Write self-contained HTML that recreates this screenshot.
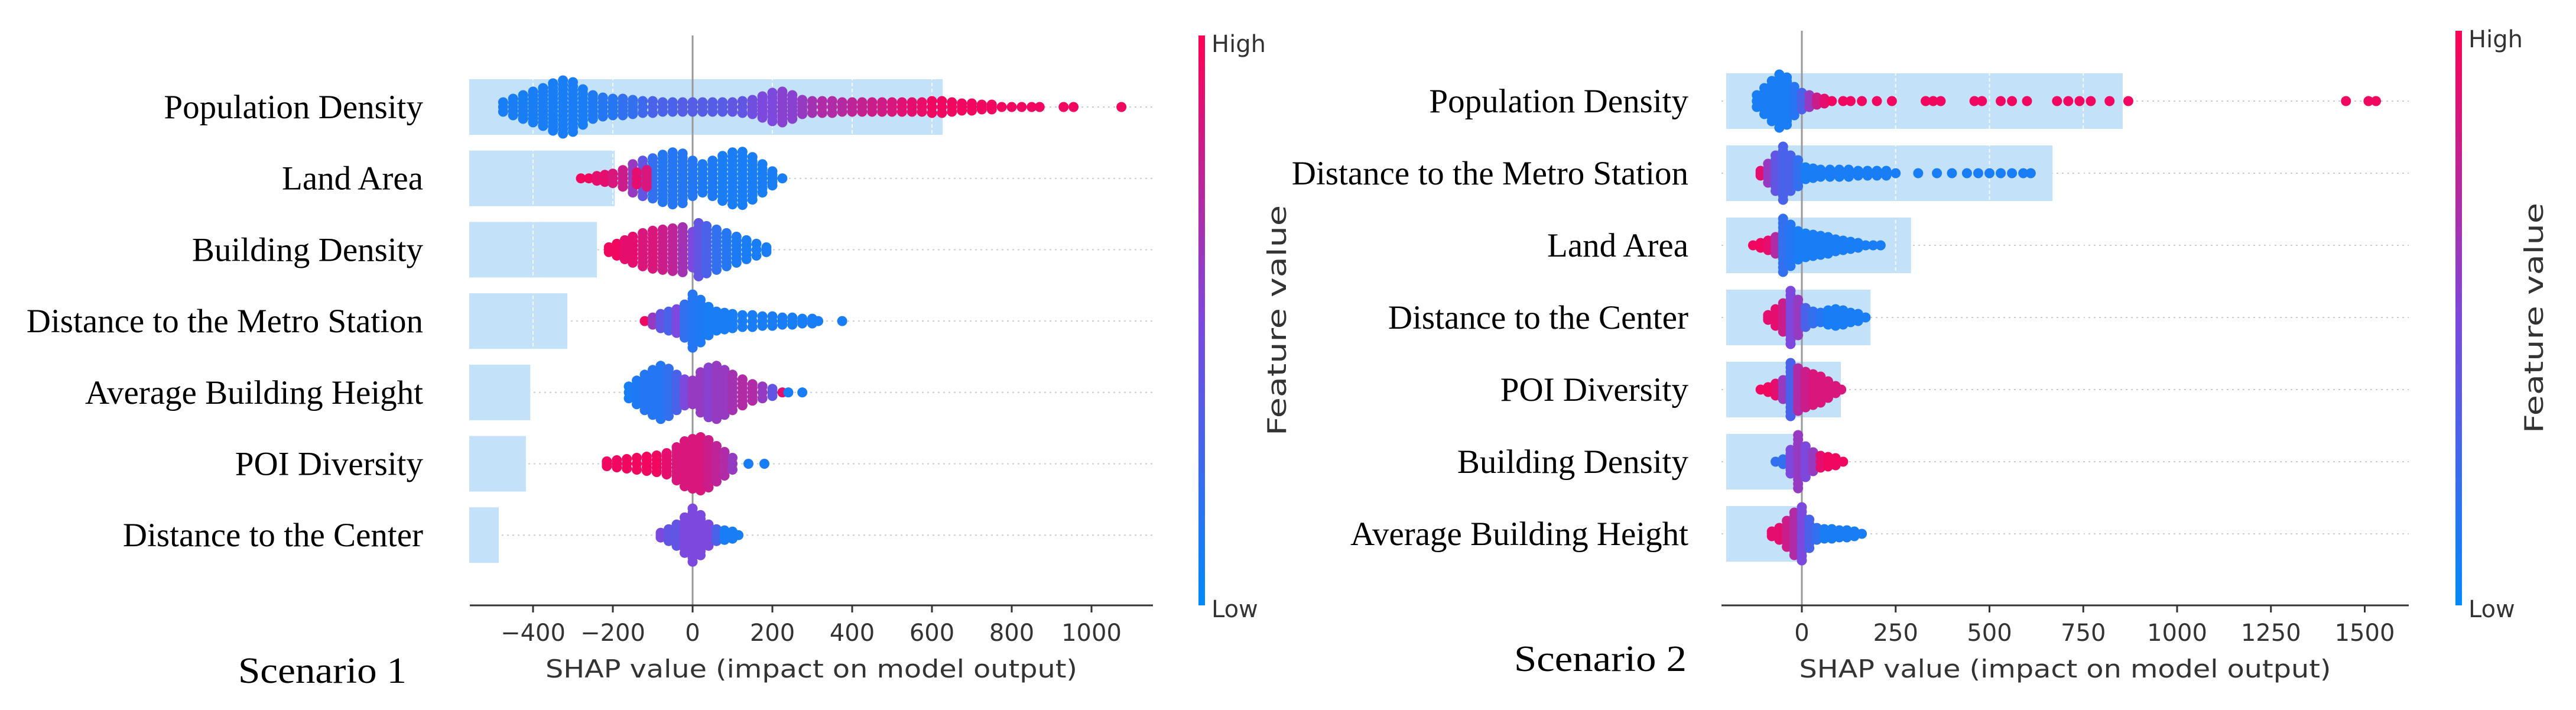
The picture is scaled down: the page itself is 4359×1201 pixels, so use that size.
<!DOCTYPE html>
<html><head><meta charset="utf-8"><style>
html,body{margin:0;padding:0;background:#fff;}
svg{display:block;}
.lbl{font-family:"Liberation Serif",serif;font-size:57px;fill:#000;}
.tick{font-family:"DejaVu Sans","Liberation Sans",sans-serif;font-size:40px;fill:#333;}
.xl{font-family:"DejaVu Sans","Liberation Sans",sans-serif;font-size:42px;fill:#333;}
.scn{font-family:"Liberation Serif",serif;font-size:62px;fill:#000;}
</style></head><body>
<svg id="chart" width="4359" height="1201" viewBox="0 0 4359 1201" xmlns="http://www.w3.org/2000/svg">
<defs><linearGradient id="cbar" x1="0" y1="1" x2="0" y2="0">
<stop offset="0" stop-color="#008afb"/><stop offset="0.5" stop-color="#7c48dd"/><stop offset="1" stop-color="#ff0052"/></linearGradient></defs>
</svg>
<script>
// ---------- Scenario 1 data ----------
const features1 = ["Population Density","Land Area","Building Density","Distance to the Metro Station","Average Building Height","POI Diversity","Distance to the Center"];
const barValues1 = [627,-195,-240,-314,-407,-418,-486];
const ticks1 = [-400,-200,0,200,400,600,800,1000];
// beeswarm profiles: [shap value, half-spread(px), feature value 0..1]
const swarm1_pop = [[-475,8,.1],[-450,14,.1],[-425,20,.1],[-400,26,.1],[-375,32,.1],[-350,40,.1],[-325,45,.1],[-300,42,.1],[-275,30,.1],[-250,20,.12],[-225,16,.15],[-200,14,.15],[-175,14,.2],[-150,12,.2],[-125,10,.25],[-100,10,.3],[-75,8,.3],[-50,8,.3],[-25,8,.35],[0,8,.35],[25,8,.35],[50,8,.35],[75,8,.35],[100,8,.4],[125,10,.4],[150,12,.45],[175,18,.5],[200,24,.5],[225,26,.55],[250,20,.55],[275,12,.6],[300,10,.65],[325,10,.7],[350,10,.7],[375,8,.72],[400,8,.75],[425,8,.78],[450,8,.8],[475,8,.82],[500,8,.85],[525,8,.88],[550,8,.9],[575,8,.92],[600,10,.95],[625,10,.95],[650,8,.95],[675,6,.95],[700,6,.95],[725,4,.95],[750,4,.95],[775,2,.95],[800,2,.95],[825,0,.95],[850,0,.95],[870,0,.95],[930,0,.95],[955,0,.95],[1075,0,.95]];
const swarm1_land = [[-280,0,.95],[-260,0,.95],[-240,4,.9],[-220,6,.9],[-200,8,.85],[-175,14,.8],[-150,24,.6],[-125,30,.4],[-100,34,.2],[-75,40,.15],[-50,44,.15],[-25,42,.15],[0,30,.15],[25,24,.12],[50,30,.12],[75,38,.1],[100,44,.1],[125,45,.1],[150,36,.1],[175,24,.1],[200,12,.1],[225,0,.1],[-140,10,.9],[-115,14,.85]];
const swarm1_bd = [[-210,4,.95],[-190,10,.95],[-170,16,.9],[-150,22,.9],[-125,28,.85],[-100,32,.85],[-75,34,.8],[-50,36,.75],[-25,38,.65],[0,30,.5],[15,45,.4],[35,40,.3],[60,34,.2],[85,28,.15],[110,22,.12],[135,16,.1],[160,10,.1],[185,4,.1]];
const swarm1_metro = [[-120,0,.95],[-100,6,.6],[-80,12,.4],[-60,16,.3],[-40,20,.5],[-20,28,.2],[0,45,.15],[20,36,.12],[40,24,.1],[60,16,.1],[80,14,.1],[100,12,.1],[125,10,.1],[150,10,.1],[175,8,.1],[200,8,.1],[225,6,.1],[250,6,.1],[275,4,.1],[300,4,.1],[315,0,.1],[375,0,.1]];
const swarm1_avgh = [[-160,10,.1],[-140,20,.12],[-120,30,.15],[-100,38,.15],[-80,45,.15],[-60,40,.2],[-40,30,.3],[-20,22,.5],[0,20,.6],[20,34,.6],[40,42,.55],[60,45,.6],[80,38,.6],[100,30,.65],[125,22,.7],[150,14,.7],[175,10,.6],[200,6,.4],[225,2,.9],[240,0,.1],[275,0,.1]];
const swarm1_poi = [[-215,4,.95],[-190,6,.95],[-165,8,.95],[-140,10,.95],[-115,12,.95],[-90,14,.95],[-65,18,.9],[-40,28,.85],[-20,38,.85],[0,42,.85],[20,45,.85],[40,40,.8],[60,30,.75],[80,20,.7],[100,10,.6],[140,0,.1],[180,0,.1]];
const swarm1_center = [[-80,4,.5],[-60,10,.4],[-40,18,.4],[-20,30,.5],[0,45,.5],[20,34,.5],[40,18,.5],[60,10,.3],[80,8,.1],[100,6,.1],[115,0,.1]];
// ---------- Scenario 2 data ----------
const features2 = ["Population Density","Distance to the Metro Station","Land Area","Distance to the Center","POI Diversity","Building Density","Average Building Height"];
const barValues2 = [855,668,291,183,104,-5,-3];
const ticks2 = [0,250,500,750,1000,1250,1500];
const swarm2_pop = [[-120,10,.1],[-100,22,.1],[-80,34,.1],[-60,45,.1],[-40,40,.1],[-20,24,.15],[0,14,.3],[20,10,.6],[40,6,.8],[60,4,.9],[80,2,.95],[110,0,.95],[130,0,.95],[160,0,.95],[200,0,.95],[240,0,.95],[330,0,.95],[350,0,.95],[370,0,.95],[460,0,.95],[480,0,.95],[530,0,.95],[560,0,.95],[600,0,.95],[680,0,.95],[710,0,.95],[740,0,.95],[770,0,.95],[820,0,.95],[870,0,.95],[1450,0,.95],[1510,0,.95],[1530,0,.95]];
const swarm2_metro = [[-110,4,.9],[-90,16,.6],[-70,30,.4],[-50,45,.3],[-30,30,.3],[-10,22,.2],[10,10,.1],[30,8,.1],[50,6,.1],[75,6,.1],[100,6,.1],[125,6,.1],[150,4,.1],[175,4,.1],[200,4,.1],[225,4,.1],[250,2,.1],[310,0,.1],[360,0,.1],[400,0,.1],[440,0,.1],[470,0,.1],[500,0,.1],[530,0,.1],[560,0,.1],[590,0,.1],[610,0,.1]];
const swarm2_land = [[-130,0,.95],[-110,4,.95],[-90,8,.9],[-70,14,.7],[-50,45,.2],[-30,35,.15],[-10,24,.1],[10,20,.1],[30,18,.1],[50,16,.1],[70,14,.1],[90,10,.1],[110,8,.1],[130,6,.1],[150,4,.1],[170,2,.1],[190,0,.1],[210,0,.1]];
const swarm2_center = [[-90,4,.9],[-70,14,.9],[-50,24,.8],[-30,45,.5],[-10,30,.6],[10,16,.3],[30,10,.2],[50,8,.15],[70,12,.1],[90,14,.1],[110,12,.1],[130,8,.1],[150,6,.1],[170,0,.1]];
const swarm2_poi = [[-110,0,.95],[-90,4,.95],[-70,10,.9],[-50,16,.6],[-30,45,.3],[-10,36,.7],[10,30,.8],[30,26,.85],[50,22,.85],[70,14,.85],[90,6,.85],[105,0,.85]];
const swarm2_bd = [[-70,0,.2],[-50,4,.2],[-30,20,.5],[-10,45,.6],[10,26,.5],[30,16,.6],[50,10,.9],[70,8,.95],[90,6,.95],[110,0,.95]];
const swarm2_avgh = [[-80,4,.9],[-60,10,.9],[-40,22,.8],[-20,36,.7],[0,45,.5],[20,24,.3],[40,10,.2],[60,8,.1],[80,8,.1],[100,6,.1],[120,6,.1],[140,4,.1],[160,0,.1]];

const NS="http://www.w3.org/2000/svg";
const svg=document.getElementById('chart');
function mk(tag,attrs,parent){const e=document.createElementNS(NS,tag);for(const k in attrs)e.setAttribute(k,attrs[k]);(parent||svg).appendChild(e);return e;}
function col(c){const a=[0,138,251],m=[124,72,221],b=[255,0,82];let p,q,t;if(c<.5){p=a;q=m;t=c/.5;}else{p=m;q=b;t=(c-.5)/.5;}
return 'rgb('+p.map((v,i)=>Math.round(v+(q[i]-v)*t)).join(',')+')';}

function panel(cfg){
  const g=mk('g',{});
  
  
  const X=v=>cfg.x0+v*cfg.k;
  const Y=i=>cfg.rows[0]+i*cfg.rowStep;
  cfg.features.forEach((f,i)=>{
    const l=mk('line',{x1:cfg.axL,x2:cfg.axR,y1:Y(i),y2:Y(i),stroke:'#ccc','stroke-width':2,'stroke-dasharray':'3,6'},g);
    
    
  });
  cfg.bars.forEach((v,i)=>{
    const x1=cfg.barL,x2=X(v);
    const r=mk('rect',{x:x1,y:Y(i)-47,width:Math.max(0,x2-x1),height:94,fill:'#c3e1f8'},g);
    
    
  });
  cfg.ticks.forEach(t=>{
    const l=mk('line',{x1:X(t),x2:X(t),y1:cfg.top,y2:cfg.axY,stroke:'#fff','stroke-width':2,'stroke-dasharray':'6,4','opacity':.8},g);
    
    
  });
  const z=mk('line',{x1:X(0),x2:X(0),y1:cfg.top,y2:cfg.axY,stroke:'#999','stroke-width':3},g);
  
  
  cfg.swarms.forEach((sw,i)=>{
    const sg=mk('g',{},g);
    
    
    sw.forEach(([v,a,c])=>{
      const n=Math.max(0,Math.round(a/7));
      for(let k=-n;k<=n;k++){
        const d=mk('circle',{cx:X(v),cy:Y(i)+k*a/(n||1),r:8.5,fill:col(c)},sg);
        
        
      }
    });
  });
  cfg.features.forEach((f,i)=>{
    const t=mk('text',{x:cfg.lblX,y:Y(i)+19,'text-anchor':'end',class:'lbl'},g);
    t.textContent=f;
    
    
  });
  const ax=mk('line',{x1:cfg.axL,x2:cfg.axR,y1:cfg.axY,y2:cfg.axY,stroke:'#333','stroke-width':3},g);
  
  
  cfg.ticks.forEach(t=>{
    const tk=mk('line',{x1:X(t),x2:X(t),y1:cfg.axY,y2:cfg.axY+12,stroke:'#333','stroke-width':3},g);
    
    
    const tl=mk('text',{x:X(t),y:cfg.axY+60,'text-anchor':'middle',class:'tick'},g);
    tl.textContent=(t<0?'\u2212'+(-t):String(t));
    
    
  });
  const xl=mk('text',{x:(cfg.axL+cfg.axR)/2,y:cfg.axY+122,'text-anchor':'middle',class:'xl',textLength:900,lengthAdjust:'spacingAndGlyphs'},g);
  xl.textContent='SHAP value (impact on model output)';
  
  
  const sc=mk('text',{x:cfg.scX,y:cfg.scY,class:'scn',textLength:cfg.scW,lengthAdjust:'spacingAndGlyphs'},g);
  sc.textContent=cfg.scenario;
  
  
  const cb=mk('rect',{x:cfg.cbX,y:cfg.top,width:11,height:cfg.axY-cfg.top,fill:'url(#cbar)'},g);
  
  
  const hi=mk('text',{x:cfg.cbX+22,y:cfg.top+28,class:'tick'},g);hi.textContent='High';
  
  
  const lo=mk('text',{x:cfg.cbX+22,y:cfg.axY+20,class:'tick'},g);lo.textContent='Low';
  
  
  const fy=(cfg.top+cfg.axY)/2;
  const fv=mk('text',{x:cfg.cbX+148,y:fy,'text-anchor':'middle',class:'tick',transform:'rotate(-90 '+(cfg.cbX+148)+' '+fy+')',textLength:390,lengthAdjust:'spacingAndGlyphs',style:'font-size:44px'},g);
  fv.textContent='Feature value';
  
  
}
panel({name:'scenario-1-panel',features:features1,bars:barValues1,ticks:ticks1,
  swarms:[swarm1_pop,swarm1_land,swarm1_bd,swarm1_metro,swarm1_avgh,swarm1_poi,swarm1_center],
  x0:1172,k:0.675,rows:[181],rowStep:120.7,barL:794,top:60,axY:1024,axL:795,axR:1951,lblX:716,
  cbX:2028,scenario:'Scenario 1',scX:403,scY:1155,scW:285});
panel({name:'scenario-2-panel',features:features2,bars:barValues2,ticks:ticks2,
  swarms:[swarm2_pop,swarm2_metro,swarm2_land,swarm2_center,swarm2_poi,swarm2_bd,swarm2_avgh],
  x0:3049,k:0.635,rows:[171],rowStep:122,barL:2921,top:52,axY:1024,axL:2913,axR:4076,lblX:2857,
  cbX:4155,scenario:'Scenario 2',scX:2562,scY:1135,scW:292});
</script>
</body></html>
